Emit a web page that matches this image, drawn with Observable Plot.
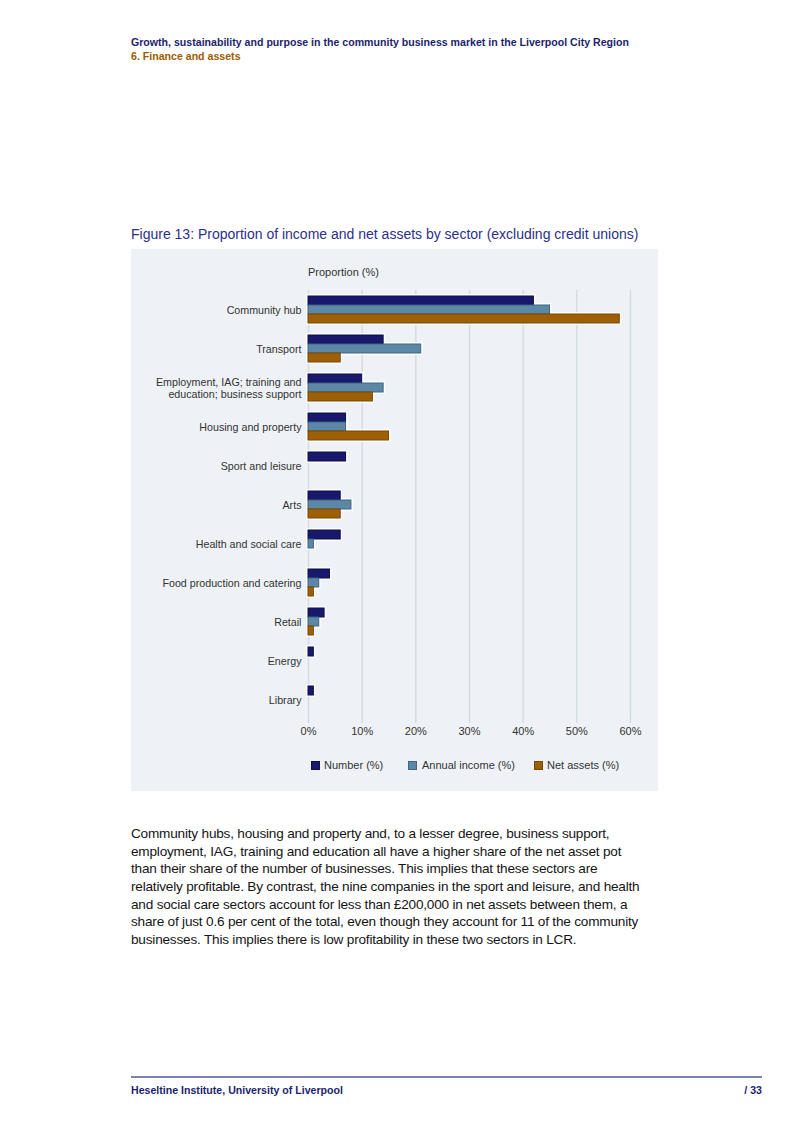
<!DOCTYPE html>
<html>
<head>
<meta charset="utf-8">
<script src="https://cdn.jsdelivr.net/npm/d3@7"></script>
<script src="https://cdn.jsdelivr.net/npm/@observablehq/plot@0.6"></script>
<style>
  html, body { margin: 0; padding: 0; background: #fff; }
  body { width: 800px; height: 1132px; position: relative; font-family: "Liberation Sans", Arial, Helvetica, sans-serif; }
  .abs { position: absolute; white-space: nowrap; }
  .hdr1 { left: 131px; top: 36px; font-size: 10.6px; font-weight: bold; color: #1d1f6e; }
  .hdr2 { left: 131px; top: 50px; font-size: 10.6px; font-weight: bold; color: #9b5c00; }
  .title { left: 131px; top: 226px; font-size: 14px; color: #2b2f8c; }
  .panel { left: 131px; top: 249px; width: 527px; height: 542px; background: #eef2f6; }
  .plabel { left: 177px; top: 17px; font-size: 11px; color: #333; }
  .legend { left: 0; top: 510px; width: 527px; height: 14px; font-size: 11px; color: #333; }
  .sw { display: inline-block; width: 9px; height: 9px; position: absolute; top: 2px; }
  .body { left: 131px; top: 825px; font-size: 13.6px; letter-spacing: -0.2px; line-height: 17.67px; color: #151515; }
  .rule { left: 131px; top: 1076px; width: 631px; height: 2px; background: #7d80b5; }
  .foot { top: 1084px; font-size: 10.6px; font-weight: bold; color: #1d1f6e; }
</style>
</head>
<body>
<div class="abs hdr1">Growth, sustainability and purpose in the community business market in the Liverpool City Region</div>
<div class="abs hdr2">6. Finance and assets</div>
<div class="abs title">Figure 13: Proportion of income and net assets by sector (excluding credit unions)</div>
<div class="abs panel" id="panel">
  <div class="abs plabel">Proportion (%)</div>
  <div id="chart" class="abs" style="left:0;top:0;"></div>
  <div class="abs legend" id="legend"></div>
</div>
<div class="abs body">Community hubs, housing and property and, to a lesser degree, business support,<br>employment, IAG, training and education all have a higher share of the net asset pot<br>than their share of the number of businesses. This implies that these sectors are<br>relatively profitable. By contrast, the nine companies in the sport and leisure, and health<br>and social care sectors account for less than £200,000 in net assets between them, a<br>share of just 0.6 per cent of the total, even though they account for 11 of the community<br>businesses. This implies there is low profitability in these two sectors in LCR.</div>
<div class="abs rule"></div>
<div class="abs foot" style="left:131px;">Heseltine Institute, University of Liverpool</div>
<div class="abs foot" style="right:38px;">/ 33</div>
<script>
const sectors = ["Community hub", "Transport", "Employment, IAG; training and education; business support", "Housing and property", "Sport and leisure", "Arts", "Health and social care", "Food production and catering", "Retail", "Energy", "Library"];
const sectorLabels = ["Community hub", "Transport", "Employment, IAG; training and\neducation; business support", "Housing and property", "Sport and leisure", "Arts", "Health and social care", "Food production and catering", "Retail", "Energy", "Library"];
const seriesNames = ["Number (%)", "Annual income (%)", "Net assets (%)"];
const numberPct = [42, 14, 10, 7, 7, 6, 6, 4, 3, 1, 1];
const incomePct = [45, 21, 14, 7, 0, 8, 1, 2, 2, 0, 0];
const netAssetsPct = [58, 6, 12, 15, 0, 6, 0, 1, 1, 0, 0];
const xTicks = [0, 10, 20, 30, 40, 50, 60];
const fills = ["#18196c", "#5d87a6", "#9e6006"];
const strokes = ["#0e0f4a", "#3f6683", "#7a4700"];

const seriesVals = [numberPct, incomePct, netAssetsPct];
const rows = [];
sectors.forEach((s, i) => seriesNames.forEach((k, j) => rows.push({sector: s, series: k, value: seriesVals[j][i]})));
const bars = rows.filter(d => d.value > 0);
const labelOf = new Map(sectors.map((s, i) => [s, sectorLabels[i]]));

const chart = Plot.plot({
  width: 527, height: 500,
  marginLeft: 177, marginRight: 28, marginTop: 38, marginBottom: 28,
  style: {background: "transparent", fontFamily: "'Liberation Sans', Arial, sans-serif", fontSize: "10.7px", color: "#333", overflow: "visible"},
  x: {domain: [0, 60], label: null},
  y: {domain: seriesNames, axis: null, paddingInner: 0, paddingOuter: 0.62},
  fy: {domain: sectors, padding: 0, label: null, axis: null},
  color: {domain: seriesNames, range: fills},
  marks: [
    Plot.ruleX(xTicks, {stroke: "#d2dae2", strokeWidth: 1.4}),
    Plot.barX(bars, {fy: "sector", y: "series", x: "value", fill: "white", stroke: "white", strokeWidth: 4, strokeOpacity: 0.85}),
    Plot.barX(bars, {fy: "sector", y: "series", x: "value", fill: "series", stroke: d => strokes[seriesNames.indexOf(d.series)], strokeWidth: 1}),
    Plot.axisX({ticks: xTicks, tickFormat: d => d + "%", tickSize: 4, tickPadding: 4, stroke: "#c9d2db", fill: "#333", label: null, fontSize: 11}),
    Plot.axisFy({anchor: "left", tickSize: 0, tickPadding: 7, tickFormat: d => labelOf.get(d), fill: "#333", label: null, lineHeight: 1.18})
  ]
});
document.getElementById("chart").appendChild(chart);

const legend = document.getElementById("legend");
const legPos = [[180, 193], [277, 291], [403, 416]];
seriesNames.forEach((k, j) => {
  const sw = document.createElement("span");
  sw.className = "sw";
  sw.style.left = legPos[j][0] + "px";
  sw.style.background = fills[j];
  sw.style.boxShadow = "inset 0 0 0 1px " + strokes[j];
  legend.appendChild(sw);
  const t = document.createElement("span");
  t.className = "abs";
  t.style.left = legPos[j][1] + "px";
  t.style.top = "0px";
  t.textContent = k;
  legend.appendChild(t);
});
</script>
</body>
</html>
